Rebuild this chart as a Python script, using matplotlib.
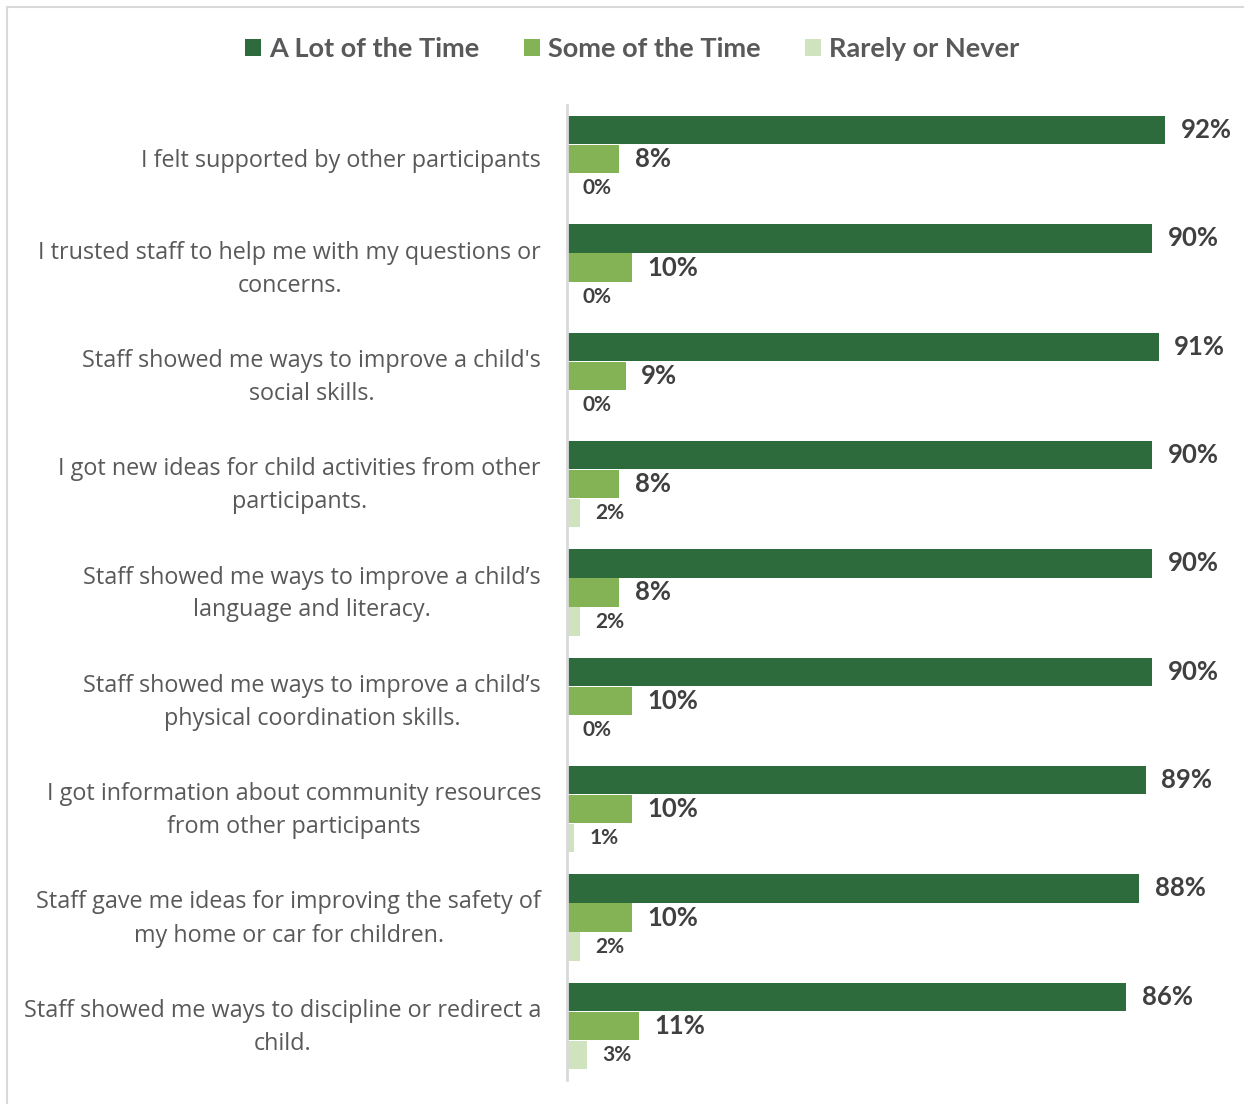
import matplotlib.pyplot as plt
import matplotlib.transforms as mtransforms
from matplotlib.patches import Rectangle, Patch

# survey items, top to bottom
items = [
    "I felt supported by other participants",
    "I trusted staff to help me with my questions or\nconcerns.",
    "Staff showed me ways to improve a child's\nsocial skills.",
    "I got new ideas for child activities from other\nparticipants.",
    "Staff showed me ways to improve a child\u2019s\nlanguage and literacy.",
    "Staff showed me ways to improve a child\u2019s\nphysical coordination skills.",
    "I got information about community resources\nfrom other participants",
    "Staff gave me ideas for improving the safety of\nmy home or car for children.",
    "Staff showed me ways to discipline or redirect a\nchild.",
]
series_names = ["A Lot of the Time", "Some of the Time", "Rarely or Never"]
a_lot = [92, 90, 91, 90, 90, 90, 89, 88, 86]
some = [8, 10, 9, 8, 8, 10, 10, 10, 11]
rarely = [0, 0, 0, 2, 2, 0, 1, 2, 3]

colors = ["#2D6A3C", "#84B356", "#D0E3BF"]
label_font = "Lato"
cat_font = "Open Sans"

fig = plt.figure(figsize=(12.44, 11.04), dpi=100)
W, H = 1244, 1104

# light frame around the chart area
fig.patches.append(Rectangle((7 / W, -0.1), 1.2, 1.1 - 7 / H, transform=fig.transFigure,
                             fill=False, edgecolor="#D9D9D9", linewidth=1.5))

ax = fig.add_axes([567 / W, 24 / H, 650 / W, 975 / H])

bh = 0.263
off = 0.268
ypos = list(range(len(items)))
series = [a_lot, some, rarely]
sizes = [18.5, 18.5, 15]
for k, vals in enumerate(series):
    ys = [y + (k - 1) * off for y in ypos]
    ax.barh(ys, vals, height=bh, color=colors[k], label=series_names[k])
    for y, v in zip(ys, vals):
        ax.text(v + 2.4, y, f"{v}%", va="center", ha="left", fontsize=sizes[k],
                fontweight="bold", family=label_font, color="#404040")

ax.set_xlim(0, 100)
ax.set_ylim(len(items) - 0.5, -0.5)

# category labels drawn as text to the left of the axis
lab_trans = mtransforms.blended_transform_factory(ax.transAxes, ax.transData)
lab_trans = lab_trans + mtransforms.ScaledTranslation(0, -1.5 / 100, fig.dpi_scale_trans)
for y, name in zip(ypos, items):
    ax.text(-26 / 650, y, name, transform=lab_trans, ha="right", va="center",
            multialignment="center", fontsize=16.8, family=cat_font, color="#595959",
            linespacing=1.5)

ax.set_yticks([])
ax.set_xticks([])
for s in ["top", "right", "bottom"]:
    ax.spines[s].set_visible(False)
ax.spines["left"].set_color("#D9D9D9")
ax.spines["left"].set_linewidth(2)

handles = [Patch(facecolor=c, edgecolor="none") for c in colors]
leg = fig.legend(handles, series_names, loc="center", bbox_to_anchor=(632 / W, 1 - 49 / H),
                 ncol=3, frameon=False, handlelength=0.6, handleheight=0.6, handletextpad=0.28,
                 columnspacing=1.65, prop={"family": label_font, "weight": "bold", "size": 19.5})
for t in leg.get_texts():
    t.set_color("#595959")

fig.savefig("out.png", dpi=100)
